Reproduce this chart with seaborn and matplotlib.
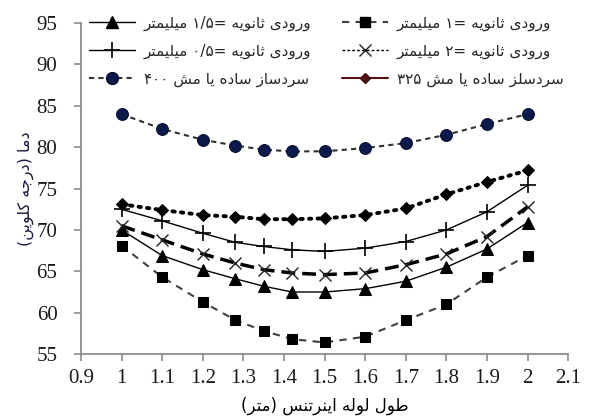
import re
import matplotlib
matplotlib.use("Agg")
import matplotlib.pyplot as plt
from matplotlib.lines import Line2D
import seaborn as sns

# ---------------- data ----------------
pipe_length = [1.0, 1.1, 1.2, 1.28, 1.35, 1.42, 1.5, 1.6, 1.7, 1.8, 1.9, 2.0]

inlet_1mm   = [68.1, 64.3, 61.3, 59.1, 57.8, 56.8, 56.4, 57.1, 59.1, 61.0, 64.3, 66.9]
inlet_1_5mm = [70.0, 66.9, 65.2, 64.1, 63.2, 62.5, 62.5, 62.9, 63.8, 65.5, 67.7, 70.9]
inlet_2mm   = [70.5, 68.8, 67.1, 66.0, 65.2, 64.8, 64.6, 64.8, 65.8, 67.1, 69.2, 72.8]
inlet_0_5mm = [72.5, 71.1, 69.6, 68.5, 68.0, 67.6, 67.4, 67.8, 68.6, 70.0, 72.2, 75.4]
mesh_325    = [73.1, 72.4, 71.8, 71.6, 71.3, 71.3, 71.4, 71.8, 72.6, 74.3, 75.8, 77.2]
mesh_400    = [84.0, 82.2, 80.9, 80.2, 79.7, 79.5, 79.5, 79.9, 80.5, 81.5, 82.8, 84.0]

label_1mm   = "ورودی ثانویه =۱ میلیمتر"
label_1_5mm = "ورودی ثانویه =۱/۵ میلیمتر"
label_2mm   = "ورودی ثانویه =۲ میلیمتر"
label_0_5mm = "ورودی ثانویه =۰/۵ میلیمتر"
label_325   = "سردسلز ساده یا مش ۳۲۵"
label_400   = "سردساز ساده یا مش ۴۰۰"

x_label = "طول لوله اینرتنس (متر)"
y_label = "دما (درجه کلوین)"

x_ticks = [0.9, 1.0, 1.1, 1.2, 1.3, 1.4, 1.5, 1.6, 1.7, 1.8, 1.9, 2.0, 2.1]
x_tick_labels = ["0.9", "1", "1.1", "1.2", "1.3", "1.4", "1.5", "1.6", "1.7", "1.8", "1.9", "2", "2.1"]
y_ticks = [55, 60, 65, 70, 75, 80, 85, 90, 95]

# ------------- minimal Persian shaping for display -------------
FORMS = {
    'ا': ('\uFE8D', '\uFE8E', None, None),
    'ت': ('\uFE95', '\uFE96', '\uFE97', '\uFE98'),
    'ث': ('\uFE99', '\uFE9A', '\uFE9B', '\uFE9C'),
    'ج': ('\uFE9D', '\uFE9E', '\uFE9F', '\uFEA0'),
    'د': ('\uFEA9', '\uFEAA', None, None),
    'ر': ('\uFEAD', '\uFEAE', None, None),
    'ز': ('\uFEAF', '\uFEB0', None, None),
    'س': ('\uFEB1', '\uFEB2', '\uFEB3', '\uFEB4'),
    'ش': ('\uFEB5', '\uFEB6', '\uFEB7', '\uFEB8'),
    'ط': ('\uFEC1', '\uFEC2', '\uFEC3', '\uFEC4'),
    'ل': ('\uFEDD', '\uFEDE', '\uFEDF', '\uFEE0'),
    'م': ('\uFEE1', '\uFEE2', '\uFEE3', '\uFEE4'),
    'ن': ('\uFEE5', '\uFEE6', '\uFEE7', '\uFEE8'),
    'ه': ('\uFEE9', '\uFEEA', '\uFEEB', '\uFEEC'),
    'و': ('\uFEED', '\uFEEE', None, None),
    'ی': ('\uFBFC', '\uFBFD', '\uFBFE', '\uFBFF'),
    'ک': ('\uFB8E', '\uFB8F', '\uFB90', '\uFB91'),
}


def shape(s):
    out = []
    for i, c in enumerate(s):
        if c not in FORMS:
            out.append(c)
            continue
        prev = s[i - 1] if i > 0 else None
        nxt = s[i + 1] if i + 1 < len(s) else None
        jp = prev in FORMS and FORMS[prev][2] is not None
        jn = FORMS[c][2] is not None and nxt in FORMS
        iso, fin, ini, med = FORMS[c]
        if jp and jn:
            out.append(med)
        elif jp:
            out.append(fin)
        elif jn:
            out.append(ini)
        else:
            out.append(iso)
    return ''.join(out)


def rtl(s):
    tokens = re.findall(r'[۰-۹0-9]+(?:[/.][۰-۹0-9]+)*|.', shape(s))
    mirror = {'(': ')', ')': '('}
    return ''.join(mirror.get(t, t) for t in reversed(tokens))


# ---------------- plot ----------------
sns.set_style("ticks")
plt.rcParams['font.family'] = ['DejaVu Sans']

fig = plt.figure(figsize=(6.0, 4.2), dpi=100)
ax = fig.add_axes([0.135, 0.157, 0.812, 0.788])

series = [
    (inlet_1mm, label_1mm, dict(color='#404040', linestyle=(0, (3.5, 3)), linewidth=1.5,
                                marker='s', markersize=6.5, markerfacecolor='black', markeredgecolor='black')),
    (inlet_1_5mm, label_1_5mm, dict(color='black', linestyle='-', linewidth=1.0,
                                    marker='^', markersize=8, markerfacecolor='black', markeredgecolor='black')),
    (inlet_2mm, label_2mm, dict(color='black', linestyle=(0, (4, 2)), linewidth=2.5,
                                marker='x', markersize=8.5, markeredgewidth=1.0, markeredgecolor='#222222')),
    (inlet_0_5mm, label_0_5mm, dict(color='black', linestyle='-', linewidth=1.0,
                                    marker='+', markersize=11, markeredgewidth=1.2, markeredgecolor='black')),
    (mesh_325, label_325, dict(color='black', linestyle=(0, (0.6, 1.6)), linewidth=2.8,
                               dash_capstyle='round',
                               marker='D', markersize=6.5, markerfacecolor='black', markeredgecolor='black')),
    (mesh_400, label_400, dict(color='#303030', linestyle=(0, (2.5, 2)), linewidth=1.5,
                               marker='o', markersize=8.5, markerfacecolor='#0b1a4a', markeredgecolor='#000a28')),
]

for vals, lab, kw in series:
    sns.lineplot(x=pipe_length, y=vals, ax=ax, sort=False, errorbar=None, legend=False, **kw)

ax.set_xlim(0.9, 2.1)
ax.set_ylim(55, 95)
ax.set_xticks(x_ticks)
ax.set_xticklabels(x_tick_labels)
ax.set_yticks(y_ticks)

for side in ['top', 'right']:
    ax.spines[side].set_visible(False)
for side in ['left', 'bottom']:
    ax.spines[side].set_color('#8c8c8c')
    ax.spines[side].set_linewidth(1.3)

ax.tick_params(axis='both', direction='out', length=5, width=1.2, color='#8c8c8c',
               labelsize=15, labelcolor='#1a1a1a')
ax.tick_params(axis='y', pad=12)
ax.tick_params(axis='x', pad=6)
for t in ax.get_xticklabels() + ax.get_yticklabels():
    t.set_fontfamily('Liberation Serif')

ax.set_xlabel(rtl(x_label), fontsize=12, color='black', labelpad=6)
ax.set_ylabel(rtl(y_label), fontsize=11.5, color='#1a1a3a', labelpad=2)

# legend (handles mirror the chart styles)
def handle(kw, **over):
    d = dict(kw)
    d.update(over)
    d.pop('dash_capstyle', None)
    return Line2D([], [], **d)

h = {lab: handle(kw) for vals, lab, kw in series}
h[label_325] = handle(series[4][2], color='#5a1010', linestyle='-', linewidth=1.5,
                      markerfacecolor='#5a1010', markeredgecolor='#3a0a0a', markersize=5.5)
h[label_2mm] = handle(series[2][2], linewidth=1.0, linestyle=(0, (2, 1.5)))

order = [label_1_5mm, label_0_5mm, label_400, label_1mm, label_2mm, label_325]
leg = ax.legend([h[k] for k in order], [rtl(k) for k in order], ncol=2,
                loc='upper left', bbox_to_anchor=(0.138, 0.978), bbox_transform=fig.transFigure,
                frameon=False, fontsize=11, handlelength=3.0, handletextpad=0.6,
                columnspacing=2.0, labelspacing=0.85, borderaxespad=0)

fig.savefig('out.png', dpi=100)
